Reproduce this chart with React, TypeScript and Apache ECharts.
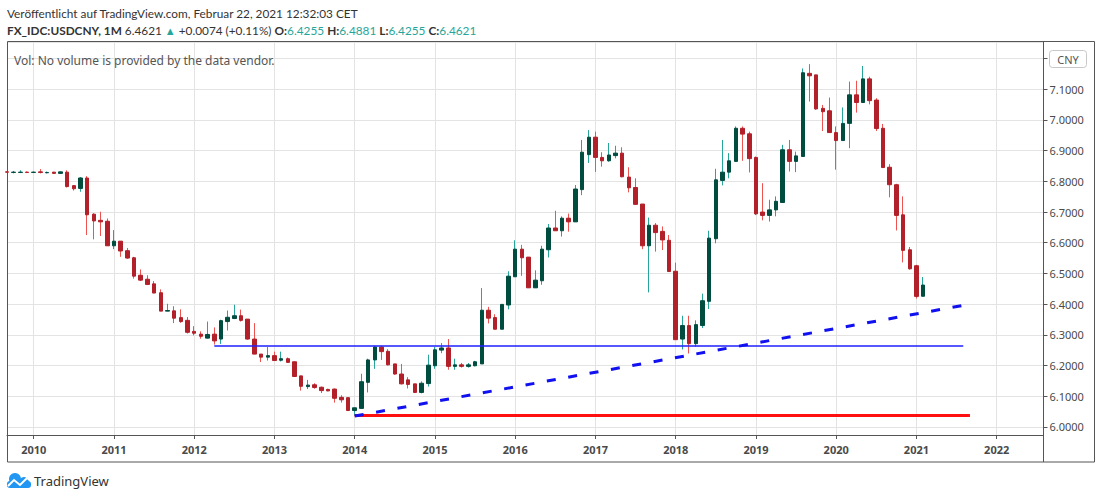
import React, { useEffect, useRef } from "react";
import * as echarts from "echarts";

// Monthly USD/CNY candles, each row: [open, close, low, high]
const y2009 = [
  [6.831, 6.83, 6.829, 6.832], [6.829, 6.83, 6.826, 6.834], [6.829, 6.83, 6.827, 6.836], [6.83, 6.829, 6.827, 6.832],
];
const y2010 = [
  [6.829, 6.83, 6.827, 6.832], [6.831, 6.829, 6.826, 6.84], [6.828, 6.829, 6.826, 6.832], [6.83, 6.826, 6.825, 6.831],
  [6.826, 6.831, 6.825, 6.832], [6.83, 6.783, 6.78, 6.836], [6.786, 6.776, 6.77, 6.788], [6.777, 6.811, 6.766, 6.814],
  [6.811, 6.691, 6.625, 6.817], [6.693, 6.671, 6.611, 6.696], [6.673, 6.668, 6.622, 6.701], [6.67, 6.59, 6.59, 6.679],
];
const y2011 = [
  [6.59, 6.605, 6.579, 6.641], [6.605, 6.573, 6.554, 6.605], [6.574, 6.55, 6.548, 6.583], [6.551, 6.491, 6.483, 6.554],
  [6.494, 6.478, 6.475, 6.513], [6.481, 6.464, 6.462, 6.494], [6.466, 6.436, 6.436, 6.475], [6.437, 6.377, 6.377, 6.448],
  [6.377, 6.379, 6.377, 6.401], [6.378, 6.354, 6.338, 6.393], [6.356, 6.343, 6.339, 6.383], [6.347, 6.308, 6.304, 6.358],
];
const y2012 = [
  [6.311, 6.305, 6.298, 6.328], [6.302, 6.295, 6.287, 6.311], [6.289, 6.301, 6.288, 6.343], [6.302, 6.28, 6.268, 6.324],
  [6.286, 6.346, 6.27, 6.349], [6.343, 6.357, 6.314, 6.379], [6.353, 6.362, 6.351, 6.398], [6.362, 6.347, 6.343, 6.382],
  [6.351, 6.286, 6.284, 6.351], [6.286, 6.237, 6.237, 6.338], [6.237, 6.227, 6.211, 6.237], [6.227, 6.232, 6.216, 6.26],
];
const y2013 = [
  [6.232, 6.216, 6.216, 6.245], [6.217, 6.222, 6.213, 6.245], [6.222, 6.21, 6.208, 6.226], [6.212, 6.164, 6.164, 6.212],
  [6.166, 6.132, 6.118, 6.166], [6.131, 6.136, 6.123, 6.153], [6.137, 6.128, 6.124, 6.142], [6.129, 6.118, 6.11, 6.131],
  [6.122, 6.117, 6.116, 6.124], [6.123, 6.093, 6.079, 6.125], [6.096, 6.088, 6.079, 6.103], [6.095, 6.053, 6.053, 6.095],
];
const y2014 = [
  [6.053, 6.062, 6.036, 6.062], [6.06, 6.147, 6.058, 6.173], [6.145, 6.218, 6.112, 6.222], [6.218, 6.26, 6.189, 6.264],
  [6.26, 6.245, 6.218, 6.264], [6.246, 6.202, 6.2, 6.253], [6.205, 6.172, 6.17, 6.205], [6.172, 6.14, 6.138, 6.205],
  [6.153, 6.138, 6.125, 6.162], [6.14, 6.112, 6.11, 6.14], [6.112, 6.142, 6.109, 6.148], [6.141, 6.201, 6.131, 6.235],
];
const y2015 = [
  [6.199, 6.251, 6.189, 6.26], [6.25, 6.257, 6.24, 6.273], [6.257, 6.197, 6.186, 6.286], [6.197, 6.202, 6.186, 6.222],
  [6.202, 6.197, 6.193, 6.208], [6.197, 6.202, 6.193, 6.208], [6.199, 6.212, 6.197, 6.215], [6.205, 6.38, 6.205, 6.452],
  [6.38, 6.354, 6.337, 6.391], [6.356, 6.318, 6.318, 6.367], [6.318, 6.399, 6.318, 6.399], [6.397, 6.491, 6.383, 6.507],
];
const y2016 = [
  [6.489, 6.579, 6.489, 6.608], [6.579, 6.551, 6.492, 6.593], [6.553, 6.453, 6.453, 6.553], [6.453, 6.478, 6.453, 6.51],
  [6.476, 6.579, 6.463, 6.59], [6.577, 6.648, 6.552, 6.661], [6.648, 6.639, 6.639, 6.704], [6.639, 6.68, 6.62, 6.686],
  [6.68, 6.668, 6.636, 6.695], [6.668, 6.775, 6.668, 6.788], [6.773, 6.895, 6.755, 6.935], [6.887, 6.944, 6.86, 6.967],
];
const y2017 = [
  [6.944, 6.878, 6.831, 6.962], [6.878, 6.867, 6.848, 6.895], [6.867, 6.886, 6.864, 6.925], [6.884, 6.892, 6.875, 6.916],
  [6.892, 6.815, 6.813, 6.911], [6.814, 6.779, 6.764, 6.846], [6.78, 6.725, 6.725, 6.81], [6.726, 6.59, 6.579, 6.726],
  [6.59, 6.657, 6.438, 6.682], [6.657, 6.633, 6.571, 6.664], [6.637, 6.609, 6.576, 6.653], [6.608, 6.506, 6.506, 6.625],
];
const y2018 = [
  [6.507, 6.284, 6.284, 6.535], [6.286, 6.33, 6.252, 6.362], [6.33, 6.271, 6.239, 6.362], [6.271, 6.333, 6.261, 6.347],
  [6.33, 6.411, 6.322, 6.434], [6.409, 6.615, 6.384, 6.639], [6.613, 6.805, 6.598, 6.841], [6.803, 6.83, 6.787, 6.935],
  [6.83, 6.867, 6.81, 6.892], [6.865, 6.973, 6.865, 6.979], [6.973, 6.954, 6.867, 6.979], [6.955, 6.874, 6.829, 6.962],
];
const y2019 = [
  [6.878, 6.694, 6.69, 6.881], [6.7, 6.689, 6.673, 6.794], [6.689, 6.707, 6.669, 6.74], [6.707, 6.735, 6.686, 6.751],
  [6.731, 6.903, 6.731, 6.919], [6.903, 6.865, 6.832, 6.935], [6.865, 6.883, 6.83, 6.897], [6.881, 7.154, 6.881, 7.168],
  [7.152, 7.144, 7.06, 7.182], [7.147, 7.036, 7.033, 7.147], [7.038, 7.027, 6.964, 7.049], [7.03, 6.959, 6.959, 7.073],
];
const y2020 = [
  [6.959, 6.933, 6.838, 6.979], [6.933, 6.989, 6.933, 7.041], [6.989, 7.082, 6.908, 7.125], [7.082, 7.057, 7.024, 7.128],
  [7.057, 7.134, 7.057, 7.176], [7.134, 7.063, 7.051, 7.141], [7.065, 6.972, 6.964, 7.071], [6.973, 6.845, 6.845, 6.987],
  [6.846, 6.789, 6.748, 6.856], [6.789, 6.689, 6.64, 6.792], [6.691, 6.575, 6.536, 6.751], [6.577, 6.515, 6.512, 6.586],
];
const y2021 = [
  [6.525, 6.425, 6.418, 6.528], [6.4255, 6.4621, 6.4255, 6.4881],
];

// Axis: first category Sep 2009, last Aug 2022
const firstYear = 2009;
const firstMonth = 9;
const monthCount = 156;

// Drawn lines
const supportLevel = 6.263;
const supportFrom = "2012-04";
const supportTo = "2021-08";
const lowLevel = 6.037;
const lowFrom = "2014-01";
const lowTo = "2021-09";
const trendFrom = { month: "2014-01", value: 6.035 };
const trendTo = { month: "2021-08", value: 6.396 };

const yMin = 5.9733;
const yMax = 7.2542;
const hiddenLabel = 7.2; // covered by the currency tag

const BULL_BODY = "#004d40";
const BEAR_BODY = "#b2202a";
const BULL_WICK = "#26a69a";
const BEAR_WICK = "#ef5350";

function buildCategories(): string[] {
  const out: string[] = [];
  let y = firstYear;
  let m = firstMonth;
  for (let i = 0; i < monthCount; i++) {
    out.push(`${y}-${String(m).padStart(2, "0")}`);
    m++;
    if (m > 12) {
      m = 1;
      y++;
    }
  }
  return out;
}

export default function App() {
  const ref = useRef<HTMLDivElement>(null);

  useEffect(() => {
    if (!ref.current) return;
    const chart = echarts.init(ref.current, undefined, { renderer: "svg" });
    const categories = buildCategories();
    const candles = [
      ...y2009, ...y2010, ...y2011, ...y2012, ...y2013, ...y2014, ...y2015,
      ...y2016, ...y2017, ...y2018, ...y2019, ...y2020, ...y2021,
    ];
    const wickData: any[] = categories.map((_, i) => (i < candles.length ? candles[i] : "-"));
    const bodyData: any[] = categories.map((_, i) => {
      if (i >= candles.length) return "-";
      const [o, c] = candles[i];
      return [o, c, Math.min(o, c), Math.max(o, c)];
    });
    const isJan = (_i: number, v: string) => v.endsWith("-01");
    const font = '"Noto Sans", "Open Sans", sans-serif';
    const hfont = 'Lato, "Noto Sans", sans-serif';
    const hs = 11.8;

    chart.setOption({
      animation: false,
      backgroundColor: "#ffffff",
      grid: { left: 7, right: 56.5, top: 42, bottom: 64, containLabel: false },
      xAxis: {
        type: "category",
        data: categories,
        boundaryGap: false,
        axisLine: { show: true, lineStyle: { color: "#555555", width: 1 } },
        axisTick: { show: true, length: 4, interval: isJan, lineStyle: { color: "#555555" } },
        axisLabel: {
          interval: isJan,
          formatter: (v: string) => v.slice(0, 4),
          color: "#4a4a4a",
          fontSize: 11,
          fontWeight: "bold",
          fontFamily: font,
          margin: 9,
        },
        splitLine: { show: true, interval: isJan, lineStyle: { color: "#e3e3e3", width: 1 } },
      },
      yAxis: {
        type: "value",
        position: "right",
        min: yMin,
        max: yMax,
        splitNumber: 13,
        axisLine: { show: true, lineStyle: { color: "#555555", width: 1 } },
        axisTick: { show: true, length: 4, inside: false, lineStyle: { color: "#555555" } },
        axisLabel: {
          showMinLabel: false,
          showMaxLabel: false,
          formatter: (v: number) =>
            Math.abs(v * 10 - Math.round(v * 10)) < 1e-6 && Math.abs(v - hiddenLabel) > 1e-6
              ? v.toFixed(4)
              : "",
          color: "#4a4a4a",
          fontSize: 11,
          fontFamily: font,
          margin: 6,
        },
        splitLine: { show: true, lineStyle: { color: "#e3e3e3", width: 1 } },
      },
      series: [
        {
          type: "candlestick",
          name: "wicks",
          data: wickData,
          barWidth: 1,
          itemStyle: {
            color: BULL_WICK,
            color0: BEAR_WICK,
            borderColor: BULL_WICK,
            borderColor0: BEAR_WICK,
            borderWidth: 1,
          },
          silent: true,
        },
        {
          type: "candlestick",
          name: "bodies",
          data: bodyData,
          barWidth: 4,
          itemStyle: {
            color: BULL_BODY,
            color0: BEAR_BODY,
            borderColor: BULL_BODY,
            borderColor0: BEAR_BODY,
            borderWidth: 1,
          },
          silent: true,
          markLine: {
            silent: true,
            symbol: ["none", "none"],
            label: { show: false },
            emphasis: { disabled: true },
            data: [
              [
                { coord: [supportFrom, supportLevel], lineStyle: { color: "#1f1fff", width: 1.5, type: "solid" } },
                { coord: [supportTo, supportLevel] },
              ],
              [
                { coord: [lowFrom, lowLevel], lineStyle: { color: "#ff1010", width: 3, type: "solid" } },
                { coord: [lowTo, lowLevel] },
              ],
              [
                { coord: [trendFrom.month, trendFrom.value], lineStyle: { color: "#1010f0", width: 3, type: [9, 12.7] } },
                { coord: [trendTo.month, trendTo.value] },
              ],
            ],
          },
        },
      ],
      graphic: [
        {
          type: "text",
          x: 7,
          y: 13,
          z: 100,
          style: {
            text: "Veröffentlicht auf TradingView.com, Februar 22, 2021 12:32:03 CET",
            fill: "#333333",
            font: `${hs}px ${hfont}`,
            verticalAlign: "middle",
          },
        },
        {
          type: "text",
          x: 7,
          y: 30,
          z: 100,
          style: {
            text:
              "{b|FX_IDC:USDCNY, 1M} {n|6.4621} {g|▲} {n|+0.0074 (+0.11%)} {b|O:}{t|6.4255} {b|H:}{t|6.4881} {b|L:}{t|6.4255} {b|C:}{t|6.4621}",
            verticalAlign: "middle",
            font: `${hs}px ${hfont}`,
            fill: "#333333",
            rich: {
              b: { fontWeight: "bold", fill: "#333333", fontSize: hs, fontFamily: hfont },
              n: { fill: "#333333", fontSize: hs, fontFamily: hfont },
              g: { fill: "#26a69a", fontSize: 11, fontFamily: font },
              t: { fill: "#26a69a", fontSize: hs, fontFamily: hfont },
            },
          },
        },
        {
          type: "text",
          x: 14,
          y: 60,
          z: 100,
          style: {
            text: "Vol: No volume is provided by the data vendor.",
            fill: "#555555",
            font: `12px ${font}`,
            verticalAlign: "middle",
          },
        },
        {
          type: "rect",
          z: 100,
          shape: { x: 7.5, y: 41.5, width: 1087, height: 420.5 },
          style: { fill: "none", stroke: "#555555", lineWidth: 1 },
        },
        {
          type: "line",
          z: 100,
          shape: { x1: 1043.5, y1: 435, x2: 1043.5, y2: 462 },
          style: { stroke: "#555555", lineWidth: 1 },
        },
        {
          type: "rect",
          z: 100,
          shape: { x: 1049.5, y: 50.5, width: 37, height: 17, r: 3 },
          style: { fill: "#ffffff", stroke: "#c8c8c8", lineWidth: 1 },
        },
        {
          type: "text",
          x: 1068,
          y: 59,
          z: 101,
          style: {
            text: "CNY",
            fill: "#555555",
            font: `11px ${font}`,
            align: "center",
            verticalAlign: "middle",
          },
        },
        // TradingView logo
        {
          type: "group",
          z: 100,
          children: [
            { type: "circle", shape: { cx: 15, cy: 479, r: 6 }, style: { fill: "#2196f3" } },
            { type: "circle", shape: { cx: 24, cy: 482, r: 5 }, style: { fill: "#2196f3" } },
            { type: "rect", shape: { x: 7, y: 481, width: 24, height: 7, r: 3 }, style: { fill: "#2196f3" } },
            {
              type: "polyline",
              shape: { points: [[8, 486], [14, 480], [20, 485], [27, 478], [31, 481]] },
              style: { stroke: "#ffffff", lineWidth: 2, fill: "none" },
            },
          ],
        },
        {
          type: "text",
          x: 34,
          y: 481,
          z: 100,
          style: {
            text: "TradingView",
            fill: "#333333",
            font: `13px ${font}`,
            verticalAlign: "middle",
          },
        },
      ],
    });
    return () => chart.dispose();
  }, []);

  return (
    <div
      ref={ref}
      style={{ position: "fixed", left: 0, top: 0, width: 1100, height: 499, background: "#fff" }}
    />
  );
}
